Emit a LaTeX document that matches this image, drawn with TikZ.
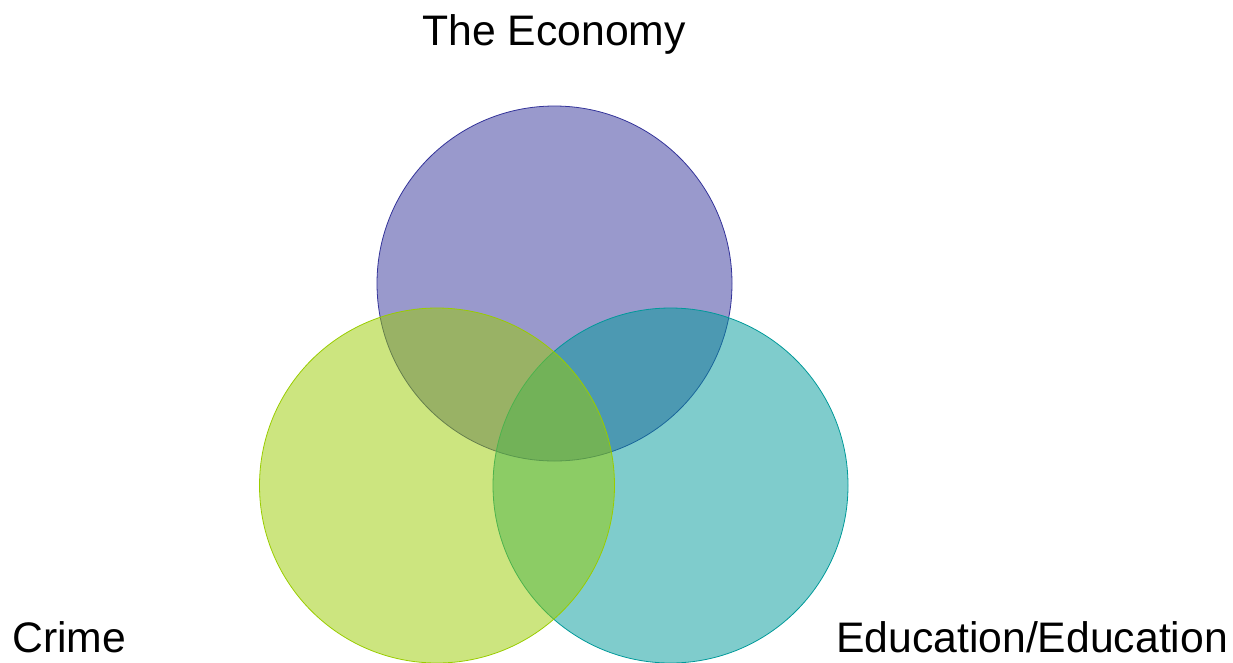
\documentclass[tikz,border=0pt]{standalone}
\usepackage{fontspec}
\setmainfont{Liberation Sans}
\definecolor{cpurple}{HTML}{333399}
\definecolor{cgreen}{HTML}{99CC00}
\definecolor{cteal}{HTML}{009999}
\begin{document}
\begin{tikzpicture}[x=1pt,y=-1pt,
  venn/.style={line width=0.8pt, fill opacity=0.5},
  lbl/.style={inner sep=0pt, font=\fontsize{42.7}{50}\selectfont}]
\useasboundingbox (0,0) rectangle (1233,662);
\path[venn, draw=cpurple, fill=cpurple] (554.5,283.5) circle (177.5);
\path[venn, draw=cteal, fill=cteal] (670.5,485.5) circle (177.5);
\path[venn, draw=cgreen, fill=cgreen] (437,485.5) circle (177.5);
\node[lbl, anchor=base] (eco) at (554,45) {The Economy};
\node[lbl, anchor=base west] (crime) at (12,652) {Crime};
\node[lbl, anchor=base west] (edu) at (836,652) {Education/Education};
\end{tikzpicture}
\end{document}
